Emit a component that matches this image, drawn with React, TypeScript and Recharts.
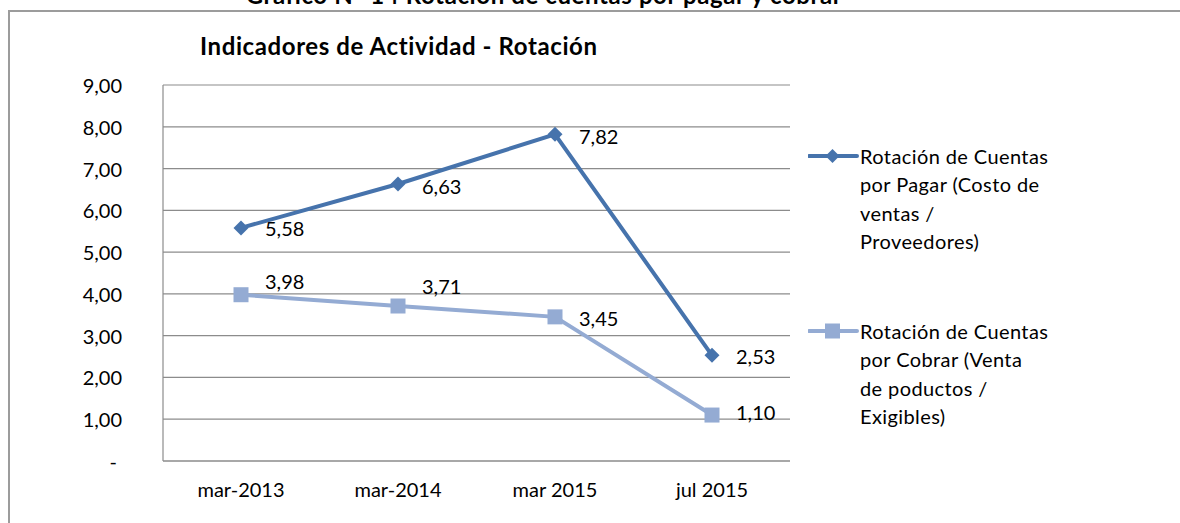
import React from 'react';
import { LineChart, Line, XAxis, YAxis, CartesianGrid } from 'recharts';

const periods = ['mar-2013', 'mar-2014', 'mar 2015', 'jul 2015'];
const porPagar = [5.58, 6.63, 7.82, 2.53];
const porCobrar = [3.98, 3.71, 3.45, 1.1];
const yTicks = [0, 1, 2, 3, 4, 5, 6, 7, 8, 9];

const serieNames = [
  ['Rotación de Cuentas', 'por Pagar (Costo de', 'ventas /', 'Proveedores)'],
  ['Rotación de Cuentas', 'por Cobrar (Venta', 'de poductos /', 'Exigibles)'],
];

const data = periods.map((p, i) => ({ periodo: p, pagar: porPagar[i], cobrar: porCobrar[i] }));

const DARK = '#4673AC';
const LIGHT = '#94ABD3';
const FONT = 'Lato, "Open Sans", sans-serif';

const fmt = (v: number) => (v === 0 ? '-' : v.toFixed(2).replace('.', ','));

const Diamond = (props: any) => {
  const { cx, cy } = props;
  if (cx == null || cy == null) return null;
  const r = 7.5;
  return <polygon points={`${cx},${cy - r} ${cx + r},${cy} ${cx},${cy + r} ${cx - r},${cy}`} fill={DARK} />;
};

const Square = (props: any) => {
  const { cx, cy } = props;
  if (cx == null || cy == null) return null;
  return <rect x={cx - 7.5} y={cy - 7.5} width={15} height={15} fill={LIGHT} />;
};

// label vertical nudges, like the hand-placed Excel labels
const pagarDy = [0, 2, 2, 1];
const cobrarDy = [-14, -20, 1, -3];

const makeLabel = (dys: number[]) => (props: any) => {
  const { x, y, value, index } = props;
  return (
    <text x={x + 24} y={y + dys[index]} dominantBaseline="central" fontSize={20} fontFamily={FONT} fill="#000">
      {fmt(value)}
    </text>
  );
};

const YTick = (props: any) => {
  const { x, y, payload } = props;
  const v = payload.value;
  return (
    <text x={v === 0 ? x - 38 : x - 33} y={y} textAnchor="end" dominantBaseline="central" fontSize={20} fontFamily={FONT} fill="#000">
      {fmt(v)}
    </text>
  );
};

const LegendItem = ({ lines, color, square, top }: { lines: string[]; color: string; square: boolean; top: number }) => (
  <div style={{ position: 'absolute', left: 808, top, display: 'flex', alignItems: 'flex-start' }}>
    <svg width={52} height={28} style={{ flex: 'none' }}>
      <line x1={1} y1={14} x2={49} y2={14} stroke={color} strokeWidth={4} strokeLinecap="round" />
      {square ? (
        <rect x={17} y={6.5} width={15} height={15} fill={color} />
      ) : (
        <polygon points="24.5,7 31.5,14 24.5,21 17.5,14" fill={color} />
      )}
    </svg>
    <div style={{ fontFamily: FONT, fontSize: 20, lineHeight: '28.3px', color: '#000', whiteSpace: 'nowrap', letterSpacing: 0.4 }}>
      {lines.map((l, i) => (
        <div key={i}>{l}</div>
      ))}
    </div>
  </div>
);

export default function App() {
  return (
    <div style={{ position: 'absolute', left: 0, top: 0, width: 1180, height: 523, overflow: 'hidden', background: '#fff' }}>
      <div
        style={{
          position: 'absolute', left: 0, width: 1088, top: -20, textAlign: 'center', letterSpacing: 0.6,
          fontFamily: FONT, fontWeight: 700, fontSize: 24, color: '#000', whiteSpace: 'nowrap',
        }}
      >
        Gráfico N° 14 Rotación de cuentas por pagar y cobrar
      </div>
      <div style={{ position: 'absolute', left: 8, top: 10, width: 1500, height: 800, border: '2px solid #9c9c9c', boxSizing: 'border-box' }} />
      <div
        style={{
          position: 'absolute', left: 200, top: 31, fontFamily: FONT, fontWeight: 700, fontSize: 24, letterSpacing: 0.6,
          color: '#000', whiteSpace: 'nowrap',
        }}
      >
        Indicadores de Actividad - Rotación
      </div>
      <div style={{ position: 'absolute', left: 0, top: 0 }}>
        <LineChart width={1180} height={523} data={data} margin={{ top: 85, right: 390, bottom: 0, left: 0 }}>
          <CartesianGrid vertical={false} stroke="#8c8c8c" strokeWidth={1.2} />
          <XAxis
            dataKey="periodo"
            padding={{ left: 78, right: 78 }}
            height={62}
            stroke="#8c8c8c"
            strokeWidth={1.2}
            tickLine={false}
            tick={{ fontSize: 20, fontFamily: FONT, fill: '#000' }}
            tickMargin={16}
          />
          <YAxis
            width={163}
            domain={[0, 9]}
            ticks={yTicks}
            interval={0}
            stroke="#8c8c8c"
            strokeWidth={1.2}
            tickLine={false}
            tick={<YTick />}
          />
          <Line
            dataKey="pagar"
            stroke={DARK}
            strokeWidth={4}
            dot={<Diamond />}
            activeDot={false}
            label={makeLabel(pagarDy)}
            isAnimationActive={false}
          />
          <Line
            dataKey="cobrar"
            stroke={LIGHT}
            strokeWidth={4}
            dot={<Square />}
            activeDot={false}
            label={makeLabel(cobrarDy)}
            isAnimationActive={false}
          />
        </LineChart>
      </div>
      <LegendItem lines={serieNames[0]} color={DARK} square={false} top={142} />
      <LegendItem lines={serieNames[1]} color={LIGHT} square top={317} />
    </div>
  );
}
